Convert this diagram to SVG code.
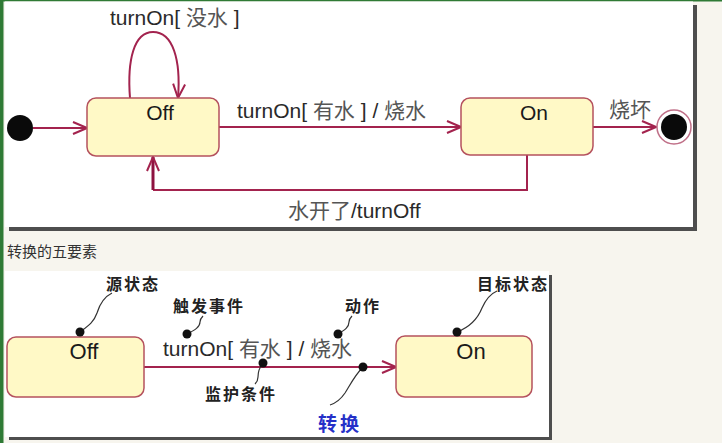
<svg xmlns="http://www.w3.org/2000/svg" width="722" height="443" viewBox="0 0 722 443">
<defs>
<style>
.bg{fill:#F7F5EE}
.panel{fill:#FFFFFF}
.shadow{fill:#4E4E4E}
.state{fill:#FFF9C6;stroke:#B5525E;stroke-width:1.5}
.name{font-family:"Liberation Sans","Noto Sans CJK SC",sans-serif;font-size:21px;fill:#1A1A1A;text-anchor:middle}
.lbl{font-family:"Liberation Sans","Noto Sans CJK SC",sans-serif;font-size:21px;fill:#2A2A2A}
.cjk{font-family:"Noto Sans CJK SC",sans-serif;fill:#555555}
.edge{fill:none;stroke:#A3234E;stroke-width:2}
.note{font-family:"Noto Sans CJK SC",sans-serif;font-weight:bold;font-size:16px;fill:#222222;letter-spacing:2px}
.lead{fill:none;stroke:#333333;stroke-width:1.2}
.dot{fill:#111111}
.cap{font-family:"Noto Sans CJK SC",sans-serif;font-size:15px;fill:#333333}
</style>
<marker id="open" viewBox="0 0 16 14" refX="15" refY="7" markerWidth="16" markerHeight="14" markerUnits="userSpaceOnUse" orient="auto">
<path d="M1,1 L15,7 L1,13" fill="none" stroke="#A3234E" stroke-width="2"/>
</marker>
</defs>

<rect class="bg" x="0" y="0" width="722" height="443"/>
<rect x="0" y="0" width="722" height="1.5" fill="#2F7A35"/>
<rect x="0" y="0" width="3.5" height="443" fill="#2F7A35"/>

<!-- top panel -->
<rect class="shadow" x="9" y="5" width="688" height="226"/>
<rect class="panel" x="5" y="1.5" width="688" height="225.5"/>

<g id="connectors-top">
<line class="edge" x1="33" y1="128" x2="87" y2="128" marker-end="url(#open)"/>
<path class="edge" d="M130,98 C127,60 134,32 153,32 C173,32 181,60 178,98" marker-end="url(#open)"/>
<line class="edge" x1="219" y1="127" x2="461" y2="127" marker-end="url(#open)"/>
<line class="edge" x1="593" y1="127" x2="656" y2="127" marker-end="url(#open)"/>
<polyline class="edge" points="527,155 527,190 153,190"/>
<line x1="153" y1="190" x2="153" y2="157" stroke="#8E1240" stroke-width="3" marker-end="url(#open)"/>
<text class="lbl" x="110" y="25">turnOn[ <tspan class="cjk">没水</tspan> ]</text>
<text class="lbl" x="237" y="118">turnOn[ <tspan class="cjk">有水</tspan> ] / <tspan class="cjk">烧水</tspan></text>
<text class="lbl" x="609" y="117"><tspan class="cjk">烧坏</tspan></text>
<text class="lbl" x="288" y="218"><tspan class="cjk">水开了</tspan>/turnOff</text>
</g>

<g id="initial">
<circle cx="20" cy="128" r="13" fill="#0A0A0A"/>
</g>
<g id="off">
<rect class="state" x="87" y="98" width="132" height="58" rx="9"/>
<text class="name" x="160" y="120">Off</text>
</g>
<g id="on">
<rect class="state" x="461" y="98" width="132" height="57" rx="9"/>
<text class="name" x="534" y="120">On</text>
</g>
<g id="final">
<circle cx="674" cy="127" r="17" fill="#FFFFFF" stroke="#C07088" stroke-width="1.5"/>
<circle cx="674" cy="127" r="13" fill="#0A0A0A"/>
</g>

<text class="cap" x="7" y="257">转换的五要素</text>

<!-- bottom panel -->
<rect class="shadow" x="9" y="275" width="543" height="165"/>
<rect class="panel" x="5" y="271" width="544" height="166"/>

<g id="connectors-bottom">
<line class="edge" x1="144" y1="367" x2="396" y2="367" marker-end="url(#open)"/>
<text class="lbl" x="163" y="356">turnOn[ <tspan class="cjk">有水</tspan> ] / <tspan class="cjk">烧水</tspan></text>
</g>

<g id="off2">
<rect class="state" x="7" y="337" width="137" height="60" rx="9"/>
<text class="name" x="84" y="359" style="font-size:22px">Off</text>
</g>
<g id="on2">
<rect class="state" x="396" y="336" width="136" height="61" rx="9"/>
<text class="name" x="471" y="359" style="font-size:22px">On</text>
</g>

<g id="annotations">
<path class="lead" d="M80,332 C88,326 94,322 97,313 C100,303 104,297 112,293"/>
<circle class="dot" cx="80" cy="332" r="4.5"/>
<text class="note" x="106" y="290">源状态</text>

<path class="lead" d="M187,334 C195,330 200,327 200,322 C200,319 201,318 203,316"/>
<circle class="dot" cx="187" cy="334" r="4.5"/>
<text class="note" x="173" y="312">触发事件</text>

<path class="lead" d="M338,334 C345,330 349,327 349,322 C349,319 350,318 352,316"/>
<circle class="dot" cx="338" cy="334" r="4.5"/>
<text class="note" x="345" y="312">动作</text>

<path class="lead" d="M457,332 C470,327 478,318 482,308 C486,299 490,294 497,291"/>
<circle class="dot" cx="457" cy="332" r="4.5"/>
<text class="note" x="477" y="290">目标状态</text>

<path class="lead" d="M263,363 C259,368 258,373 258,377 C258,380 257,382 255,384"/>
<circle class="dot" cx="263" cy="363" r="4.5"/>
<text class="note" x="205" y="400">监护条件</text>

<path class="lead" d="M363,367 C355,375 350,385 345,393 C341,399 336,403 330,405"/>
<circle class="dot" cx="363" cy="367" r="4.5"/>
<text class="note" x="318" y="431" style="fill:#2530C8;font-size:19px;letter-spacing:3px">转换</text>
</g>
</svg>
